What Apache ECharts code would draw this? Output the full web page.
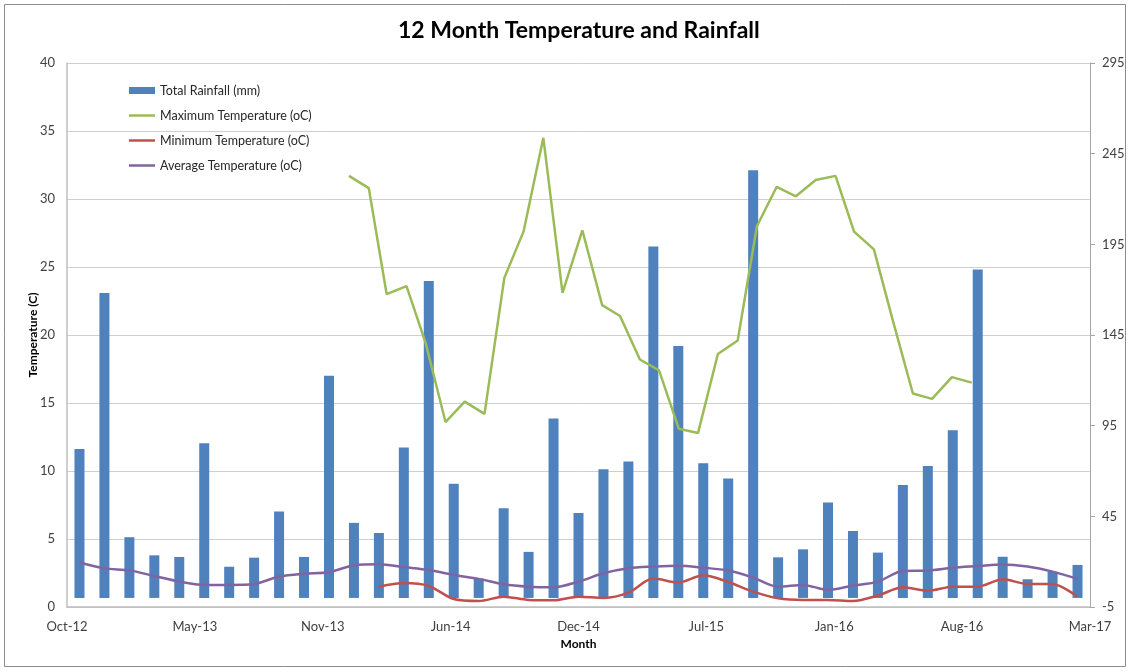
<!DOCTYPE html>
<html>
<head>
<meta charset="utf-8">
<title>12 Month Temperature and Rainfall</title>
<script src="https://cdn.jsdelivr.net/npm/echarts@6/dist/echarts.min.js"></script>
<style>
  html, body { margin: 0; padding: 0; background: #fff; }
  #main { width: 1130px; height: 672px; }
</style>
</head>
<body>
<div id="main"></div>
<script>
// init chart
var myChart = echarts.init(document.getElementById('main'));

// x axis labels (one every 200 days)
var tickLabels = ['Oct-12', 'May-13', 'Nov-13', 'Jun-14', 'Dec-14', 'Jul-15', 'Jan-16', 'Aug-16', 'Mar-17'];

// total rainfall (mm), right axis
var rainfall = [82.2, 168.2, 33.5, 23.5, 22.6, 85.3, 17.2, 22.2, 47.6, 22.6,
  122.5, 41.4, 35.8, 82.9, 174.8, 63.0, 10.8, 49.5, 25.4, 98.9,
  46.9, 71.0, 75.2, 193.8, 139.0, 74.3, 65.8, 235.8, 22.4, 26.8,
  52.6, 36.9, 25.0, 62.3, 72.8, 92.5, 181.1, 22.7, 10.3, 14.5, 18.2];

// minimum temperature, right axis (no readings for the first 12 periods)
var minTemp = [null, null, null, null, null, null, null, null, null, null, null, null,
  6.2, 8.2, 6.6, -0.6, -1.7, 0.7, -1.1, -1.3, 0.7, 0.0,
  2.9, 10.7, 8.5, 12.5, 8.8, 3.5, -0.2, -1.1, -1.1, -1.7,
  1.3, 5.9, 4.0, 6.2, 6.2, 10.3, 7.7, 7.7, 0.7];

// average temperature, right axis
var avgTemp = [19.5, 16.3, 15.2, 12.1, 9.0, 7.2, 7.2, 7.7, 11.8, 13.4,
  14.2, 18.0, 18.6, 17.0, 15.4, 12.7, 10.5, 7.5, 6.2, 5.9,
  9.0, 13.6, 16.4, 17.3, 17.8, 16.7, 15.1, 11.2, 6.2, 7.2,
  4.4, 6.8, 9.0, 14.9, 15.1, 16.7, 17.6, 18.5, 17.3, 14.5, 10.5];

// maximum temperature, monthly, left axis
var months = ['2014-01', '2014-02', '2014-03', '2014-04', '2014-05', '2014-06',
  '2014-07', '2014-08', '2014-09', '2014-10', '2014-11', '2014-12',
  '2015-01', '2015-02', '2015-03', '2015-04', '2015-05', '2015-06',
  '2015-07', '2015-08', '2015-09', '2015-10', '2015-11', '2015-12',
  '2016-01', '2016-02', '2016-03', '2016-04', '2016-05', '2016-06',
  '2016-07', '2016-08', '2016-09'];
var maxTemp = [31.7, 30.8, 23.0, 23.6, 19.4, 13.6, 15.1, 14.2, 24.2, 27.6, 34.5, 23.1,
  27.7, 22.2, 21.4, 18.2, 17.4, 13.1, 12.8, 18.6, 19.6, 28.0, 30.9, 30.2,
  31.4, 31.7, 27.6, 26.3, 21.0, 15.7, 15.3, 16.9, 16.5];

var periods = rainfall.map(function (v, i) { return String(i + 1); });

var labelColor = '#404040';
var font = 'Lato, "Open Sans", "Liberation Sans", sans-serif';
// plain line icon for the line series in the legend
var lineIcon = 'path://M0,0H26V2.5H0Z';

var option = {
    animation: false,
    backgroundColor: '#fff',
    textStyle: { fontFamily: font },
    title: {
        text: '12 Month Temperature and Rainfall',
        left: 393,
        top: 14,
        textStyle: { fontSize: 23, fontWeight: 'bold', color: '#000', fontFamily: font }
    },
    graphic: [{
        type: 'rect',
        silent: true,
        shape: { x: 4.5, y: 4.5, width: 1121, height: 662 },
        style: { fill: null, stroke: '#8c8c8c', lineWidth: 1 }
    }],
    legend: {
        orient: 'vertical',
        left: 124,
        top: 79,
        itemWidth: 26,
        itemHeight: 7,
        itemGap: 12,
        textStyle: { fontSize: 12.5, color: '#262626' },
        itemStyle: { borderWidth: 0 },
        data: [
            { name: 'Total Rainfall (mm)', icon: 'rect' },
            { name: 'Maximum Temperature (oC)', icon: lineIcon },
            { name: 'Minimum Temperature (oC)', icon: lineIcon },
            { name: 'Average Temperature (oC)', icon: lineIcon }
        ]
    },
    grid: { left: 67, right: 40, top: 63, bottom: 65, containLabel: false, outerBoundsMode: 'none' },
    xAxis: [
        { type: 'category', data: periods, position: 'bottom', boundaryGap: true, show: false },
        {
            type: 'time', position: 'bottom', show: false,
            min: new Date(2012, 9, 17).getTime(),
            max: new Date(2017, 2, 5).getTime()
        },
        {
            type: 'category', data: tickLabels, position: 'bottom', boundaryGap: false,
            name: 'Month', nameLocation: 'middle', nameGap: 31,
            nameTextStyle: { fontSize: 12, fontWeight: 'bold', color: '#000' },
            axisLine: { lineStyle: { color: '#bfbfbf', width: 1.5 } },
            axisTick: { show: false },
            axisLabel: { fontSize: 13, color: labelColor, margin: 13, interval: 0 },
            splitLine: { show: false }
        }
    ],
    yAxis: [
        {
            type: 'value', position: 'left', min: 0, max: 40, interval: 5,
            name: 'Temperature (C)', nameLocation: 'middle', nameGap: 28,
            nameMoveOverlap: false,
            nameTextStyle: { fontSize: 12, fontWeight: 'bold', color: '#000' },
            axisLine: { show: true, lineStyle: { color: '#bfbfbf', width: 1.5 } },
            axisTick: { show: false },
            axisLabel: { fontSize: 13, color: labelColor, margin: 12 },
            splitLine: { lineStyle: { color: '#cfcfcf', width: 1 } }
        },
        {
            type: 'value', position: 'right', min: -5, max: 295, interval: 50,
            axisLine: { show: true, lineStyle: { color: '#a6a6a6' } },
            axisTick: { show: true, length: 5, lineStyle: { color: '#a6a6a6' } },
            axisLabel: { fontSize: 13, color: labelColor, margin: 12 },
            splitLine: { show: false }
        }
    ],
    series: [
        {
            name: 'Total Rainfall (mm)', type: 'bar',
            xAxisIndex: 0, yAxisIndex: 1,
            data: rainfall,
            barWidth: 10,
            itemStyle: { color: '#4F81BD' }
        },
        {
            name: 'Maximum Temperature (oC)', type: 'line',
            xAxisIndex: 1, yAxisIndex: 0,
            data: maxTemp.map(function (v, i) { return [months[i], v]; }),
            symbol: 'none',
            lineStyle: { color: '#9BBB59', width: 2.5 },
            itemStyle: { color: '#9BBB59' }
        },
        {
            name: 'Minimum Temperature (oC)', type: 'line',
            xAxisIndex: 0, yAxisIndex: 1,
            data: minTemp,
            symbol: 'none', smooth: 0.3,
            lineStyle: { color: '#C0504D', width: 2.5 },
            itemStyle: { color: '#C0504D' }
        },
        {
            name: 'Average Temperature (oC)', type: 'line',
            xAxisIndex: 0, yAxisIndex: 1,
            data: avgTemp,
            symbol: 'none', smooth: 0.3,
            lineStyle: { color: '#8064A2', width: 2.5 },
            itemStyle: { color: '#8064A2' }
        }
    ]
};

myChart.setOption(option);

window.addEventListener('resize', function () {
    myChart.resize();
});
</script>
</body>
</html>
